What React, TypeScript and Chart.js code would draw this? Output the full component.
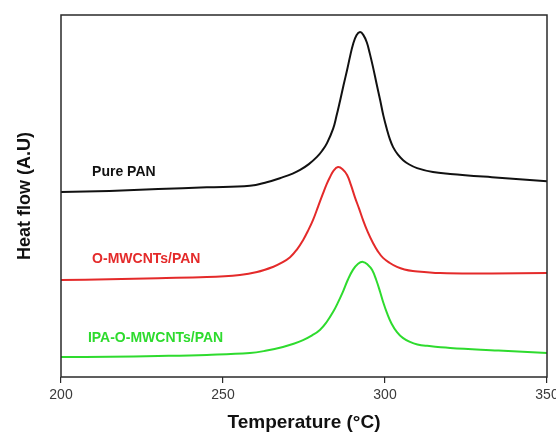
import React, { useEffect, useRef } from "react";
import { Chart, registerables } from "chart.js";

Chart.register(...registerables);

// Temperature (°C) / heat flow (arbitrary units) for each sample
const pureTemps = [200, 215, 230, 245, 258.3, 263.5, 268.5, 271.5, 273.8, 276.5, 279.0, 280.6, 282.1, 284.0, 285.0, 286.1, 287.2, 288.3, 289.2, 290.1, 291.2, 292.3, 293.3, 294.4, 295.3, 296.3, 297.4, 298.5, 299.5, 300.6, 301.5, 302.5, 304.0, 305.6, 307.5, 309.9, 314.8, 320.1, 333, 350];
const pureFlow = [51.1, 51.4, 51.9, 52.4, 52.8, 53.8, 55.2, 56.2, 57.2, 58.8, 60.8, 62.5, 64.6, 68.6, 72.0, 76.2, 80.6, 84.8, 88.5, 91.8, 94.4, 95.3, 94.5, 92.4, 89.4, 85.6, 81.0, 76.5, 72.2, 68.4, 65.7, 63.5, 61.4, 59.9, 58.7, 57.7, 56.6, 56.1, 55.2, 54.1];

const oTemps = [200, 215, 230, 245, 255.2, 260.5, 265.4, 268.0, 270.7, 272.8, 274.7, 276.3, 277.8, 279.4, 280.9, 282.0, 283.0, 284.2, 285.5, 286.9, 288.3, 289.5, 290.7, 292.0, 293.2, 294.7, 296.3, 297.8, 299.4, 301.5, 303.7, 306.0, 308.6, 317.0, 333, 350];
const oFlow = [26.8, 27.0, 27.3, 27.6, 28.2, 29.0, 30.4, 31.5, 33.1, 35.2, 37.8, 40.5, 43.4, 47.2, 50.8, 53.3, 55.2, 57.1, 58.0, 57.4, 55.8, 53.0, 49.7, 46.5, 43.4, 40.0, 37.0, 34.7, 32.9, 31.5, 30.4, 29.7, 29.3, 28.7, 28.6, 28.7];

const ipaTemps = [200, 215, 230, 245, 258.3, 263.5, 268.5, 271.8, 274.7, 277.5, 279.9, 282.0, 284.0, 285.5, 287.0, 288.5, 290.1, 291.7, 293.2, 294.6, 296.0, 297.3, 298.5, 299.5, 300.6, 302.0, 303.7, 305.5, 307.7, 310.0, 313.0, 320.1, 335, 350];
const ipaFlow = [5.5, 5.6, 5.8, 6.1, 6.6, 7.3, 8.3, 9.2, 10.2, 11.5, 13.0, 15.2, 18.0, 20.6, 23.5, 26.8, 29.6, 31.3, 31.8, 31.1, 29.6, 26.8, 23.5, 20.5, 17.7, 14.8, 12.4, 10.8, 9.7, 9.0, 8.6, 8.0, 7.3, 6.6];

const seriesNames = ["Pure PAN", "O-MWCNTs/PAN", "IPA-O-MWCNTs/PAN"];
const seriesColors = ["#111111", "#e42a2a", "#2edb2e"];
const labelTemps = [209.6, 209.6, 208.3];
const labelFlows = [56.6, 32.6, 10.8];

const xTicks = [200, 250, 300, 350];

const toPoints = (t: number[], v: number[]) => t.map((x, i) => ({ x, y: v[i] }));

const framePlugin = {
  id: "frameAndLabels",
  afterDatasetsDraw(chart: any) {
    const { ctx, chartArea, scales } = chart;
    ctx.save();
    ctx.font = "bold 14px 'Liberation Sans', Arial, sans-serif";
    ctx.textBaseline = "middle";
    ctx.textAlign = "left";
    seriesNames.forEach((name, i) => {
      ctx.fillStyle = seriesColors[i];
      ctx.fillText(name, scales.x.getPixelForValue(labelTemps[i]), scales.y.getPixelForValue(labelFlows[i]));
    });
    ctx.strokeStyle = "#2a2a2a";
    ctx.lineWidth = 1.5;
    ctx.strokeRect(chartArea.left, chartArea.top, chartArea.right - chartArea.left, chartArea.bottom - chartArea.top);
    ctx.restore();
  },
};

export default function App() {
  const ref = useRef<HTMLCanvasElement | null>(null);
  useEffect(() => {
    if (!ref.current) return;
    const data = [toPoints(pureTemps, pureFlow), toPoints(oTemps, oFlow), toPoints(ipaTemps, ipaFlow)];
    const chart = new Chart(ref.current, {
      type: "line",
      data: {
        datasets: data.map((d, i) => ({
          label: seriesNames[i],
          data: d,
          borderColor: seriesColors[i],
          borderWidth: 2,
          pointRadius: 0,
          fill: false,
          tension: 0.4,
        })),
      },
      options: {
        animation: false,
        responsive: false,
        layout: { padding: { top: 15, right: 9, left: 0, bottom: 0 } },
        plugins: { legend: { display: false }, tooltip: { enabled: false } },
        scales: {
          x: {
            type: "linear",
            min: 200,
            max: 350,
            afterBuildTicks: (scale: any) => {
              scale.ticks = xTicks.map((v) => ({ value: v }));
            },
            afterFit: (scale: any) => {
              scale.height = 57;
              scale.paddingLeft = 0;
              scale.paddingRight = 0;
            },
            grid: { display: true, drawOnChartArea: false, drawTicks: true, tickLength: 6, color: "#2a2a2a", lineWidth: 1.2 },
            border: { display: false },
            ticks: {
              color: "#3a3a3a",
              padding: 4,
              maxRotation: 0,
              font: { family: "'Liberation Sans', Arial, sans-serif", size: 14 },
            },
            title: {
              display: true,
              text: "Temperature (°C)",
              color: "#111111",
              padding: { top: 2, bottom: 0 },
              font: { family: "'Liberation Sans', Arial, sans-serif", size: 19, weight: "bold" },
            },
          },
          y: {
            type: "linear",
            min: 0,
            max: 100,
            afterFit: (scale: any) => {
              scale.width = 61;
            },
            grid: { display: false },
            border: { display: false },
            ticks: { display: false },
            title: {
              display: true,
              text: "Heat flow (A.U)",
              color: "#111111",
              padding: { top: 14, bottom: 0 },
              font: { family: "'Liberation Sans', Arial, sans-serif", size: 18, weight: "bold" },
            },
          },
        },
      },
      plugins: [framePlugin],
    });
    return () => chart.destroy();
  }, []);
  return (
    <canvas
      ref={ref}
      width={556}
      height={434}
      style={{ position: "fixed", left: 0, top: 0, width: 556, height: 434, display: "block", background: "#ffffff" }}
    />
  );
}
